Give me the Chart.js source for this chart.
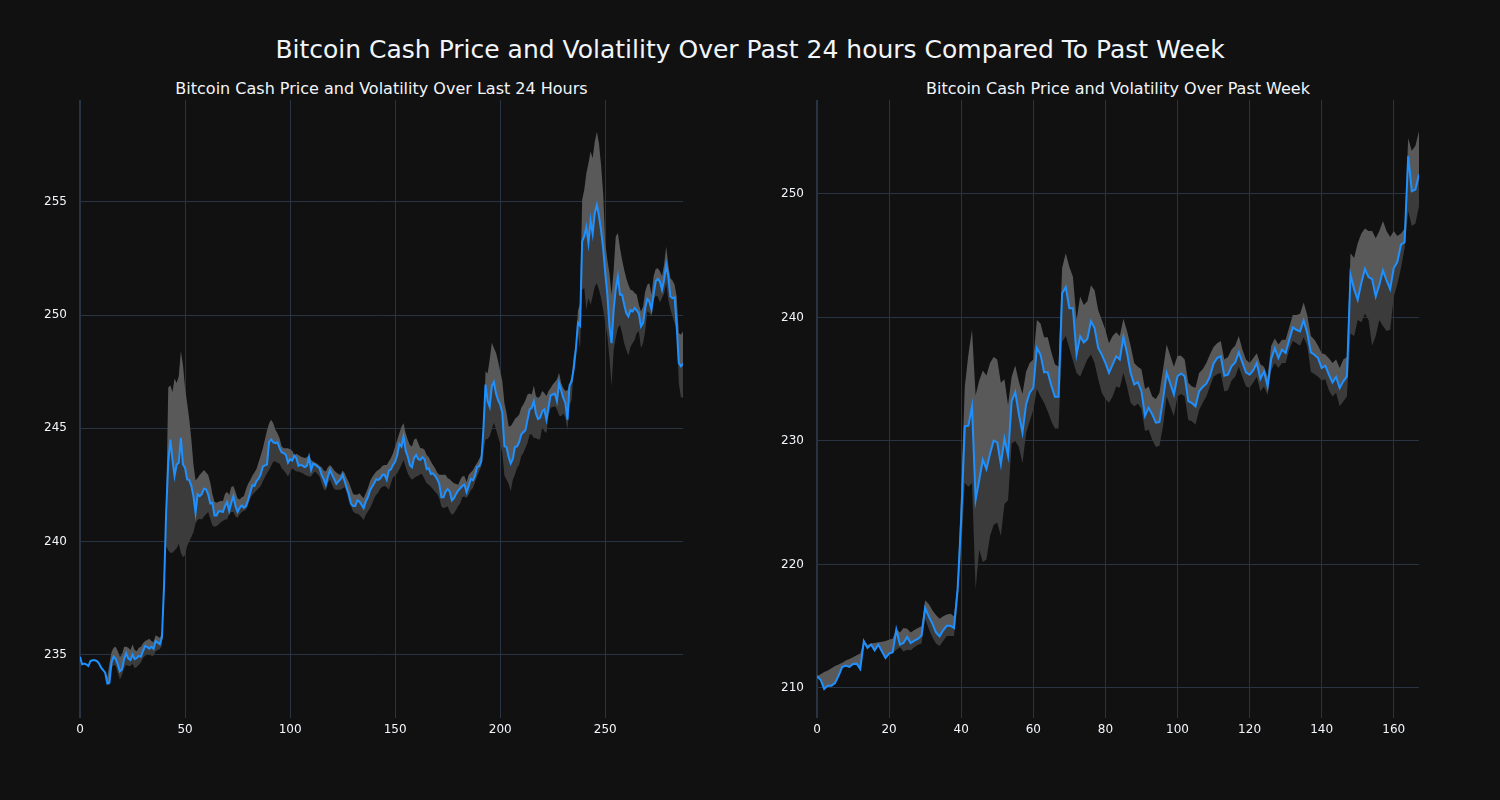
<!DOCTYPE html>
<html>
<head>
<meta charset="utf-8">
<script src="https://cdn.jsdelivr.net/npm/chart.js@4.4.0/dist/chart.umd.min.js"></script>
<style>
  body { margin: 0; background: #111111; width: 1500px; height: 800px; overflow: hidden; font-family: "DejaVu Sans", sans-serif; }
  #title { position: absolute; left: 0; top: 35px; width: 1500px; text-align: center; color: #f2f5fa; font-size: 25px; line-height: 30px; }
  .sub { position: absolute; top: 79px; color: #f2f5fa; font-size: 16px; line-height: 20px; text-align: center; }
  .wrap { position: absolute; top: 0; width: 750px; height: 800px; }
</style>
</head>
<body>
<div id="title">Bitcoin Cash Price and Volatility Over Past 24 hours Compared To Past Week</div>
<div class="sub" style="left:80px;width:603px">Bitcoin Cash Price and Volatility Over Last 24 Hours</div>
<div class="sub" style="left:817px;width:602px">Bitcoin Cash Price and Volatility Over Past Week</div>
<div class="wrap" style="left:0"><canvas id="dayChart" width="750" height="800"></canvas></div>
<div class="wrap" style="left:750px"><canvas id="weekChart" width="750" height="800"></canvas></div>
<script>
// Last 24 hours, one value per 5 minutes (index 0..287)
const dayPrice = [
  234.91, 234.57, 234.6, 234.57, 234.5, 234.72, 234.75, 234.75, 234.72, 234.62,
  234.43, 234.32, 234.2, 233.73, 233.76, 234.65, 234.91, 234.8, 234.57, 234.26,
  234.35, 234.8, 235.06, 234.82, 234.76, 235.0, 234.8, 234.85, 234.94, 234.91,
  235.16, 235.38, 235.34, 235.26, 235.35, 235.26, 235.6, 235.53, 235.46, 235.75,
  238.03, 241.27, 243.48, 244.5, 243.62, 242.89, 243.4, 243.48, 244.58, 243.4,
  243.26, 242.74, 242.71, 242.45, 242.0, 241.27, 242.08, 242.0, 242.1, 242.33,
  242.3, 242.08, 241.68, 241.71, 241.15, 241.15, 241.33, 241.33, 241.3, 241.56,
  241.74, 241.34, 241.71, 242.0, 241.56, 241.3, 241.49, 241.59, 241.49, 241.56,
  241.83, 242.15, 242.48, 242.45, 242.67, 242.77, 242.96, 243.3, 243.36, 243.4,
  244.4, 244.51, 244.37, 244.34, 244.38, 244.12, 243.93, 243.9, 243.82, 243.48,
  243.63, 243.57, 243.78, 243.68, 243.34, 243.38, 243.34, 243.28, 243.34, 243.72,
  243.16, 243.43, 243.38, 243.31, 243.23, 242.94, 242.75, 242.5, 242.87, 243.16,
  242.94, 242.75, 242.54, 242.65, 242.75, 242.94, 242.65, 242.35, 242.06, 241.66,
  241.57, 241.57, 241.81, 241.76, 241.62, 241.47, 241.76, 241.95, 242.25, 242.42,
  242.57, 242.75, 242.72, 242.79, 242.94, 242.94, 242.72, 243.13, 243.19, 243.38,
  243.53, 243.82, 244.31, 244.19, 244.63, 244.01, 243.75, 243.38, 243.28, 243.68,
  243.82, 243.63, 243.6, 243.72, 243.63, 243.19, 243.23, 242.98, 243.01, 242.9,
  242.75, 242.54, 241.95, 241.95, 242.2, 242.31, 242.2, 241.81, 241.91, 242.1,
  242.25, 242.35, 242.46, 242.51, 242.17, 242.46, 242.76, 242.7, 242.91, 243.29,
  243.32, 243.54, 244.94, 246.93, 246.19, 245.94, 246.86, 247.04, 246.53, 246.24,
  246.05, 245.68, 244.2, 244.17, 243.73, 243.44, 243.64, 244.17, 244.2, 244.38,
  244.72, 244.82, 244.91, 245.38, 245.83, 245.9, 246.19, 245.65, 245.41, 245.46,
  245.75, 245.83, 245.38, 245.94, 246.45, 246.49, 246.53, 246.19, 247.0, 246.68,
  246.34, 246.12, 245.38, 246.89, 247.08, 247.63, 248.48, 249.65, 249.53, 253.25,
  253.47, 253.88, 253.18, 254.18, 253.59, 254.5, 254.87, 254.38, 253.74, 252.96,
  251.85, 250.9, 249.5, 248.76, 250.24, 251.15, 251.71, 250.9, 250.9, 250.46,
  250.09, 249.94, 250.21, 250.16, 250.31, 250.21, 250.06, 249.5, 249.65, 250.31,
  250.71, 250.6, 250.24, 250.9, 251.49, 251.59, 251.49, 251.12, 251.56, 252.22,
  251.71, 250.82, 250.75, 250.78, 249.5, 247.88, 247.74, 247.85
];
const dayUpper = [
  234.95, 234.6, 234.63, 234.6, 234.55, 234.75, 234.78, 234.78, 234.75, 234.65,
  234.46, 234.35, 234.23, 234.0, 234.6, 235.1, 235.3, 235.35, 235.15, 234.9,
  235.0, 235.35, 235.35, 235.3, 235.2, 235.45, 235.2, 235.15, 235.3, 235.35,
  235.5, 235.6, 235.65, 235.7, 235.6, 235.55, 235.85, 235.8, 235.75, 235.95,
  238.3, 241.5, 246.8, 246.9, 246.6, 247.2, 247.0, 247.3, 248.4, 247.8,
  246.8, 246.1, 245.4, 244.5, 243.4, 242.7, 242.8, 242.95, 243.05, 243.15,
  243.05, 242.95, 242.6, 242.1, 241.75, 241.71, 241.75, 241.8, 241.78, 242.1,
  242.2, 242.05, 242.4, 242.45, 242.2, 241.9, 241.85, 241.95, 242.0, 242.3,
  242.55, 242.7, 242.9, 243.05, 243.2, 243.5, 243.8, 244.1, 244.5, 244.9,
  245.22, 245.37, 245.22, 244.93, 244.78, 244.56, 244.19, 244.12, 244.12, 244.12,
  244.07, 244.01, 243.82, 243.87, 243.82, 243.75, 243.72, 243.68, 243.72, 243.82,
  243.6, 243.53, 243.48, 243.43, 243.34, 243.28, 243.13, 243.09, 243.28, 243.38,
  243.28, 243.13, 243.04, 242.98, 242.94, 243.13, 243.01, 242.79, 242.6, 242.35,
  242.1, 242.06, 242.06, 242.13, 242.01, 241.91, 242.13, 242.35, 242.65, 242.84,
  242.97, 243.09, 243.16, 243.23, 243.34, 243.38, 243.38, 243.53, 243.68, 243.9,
  244.19, 244.49, 244.78, 245.07, 245.22, 244.78, 244.49, 244.26, 244.19, 244.49,
  244.56, 244.34, 244.12, 244.12, 244.04, 243.82, 243.72, 243.53, 243.38, 243.23,
  243.04, 242.94, 242.94, 242.94, 242.94, 242.79, 242.75, 242.65, 242.57, 242.54,
  242.5, 242.72, 242.88, 242.88, 242.61, 242.95, 243.05, 243.14, 243.32, 243.47,
  243.64, 243.83, 244.79, 247.52, 247.42, 248.04, 248.78, 248.55, 248.33, 247.96,
  247.52, 247.08, 246.12, 245.68, 245.09, 245.09, 245.24, 245.41, 245.5, 245.6,
  245.9, 246.05, 246.24, 246.49, 246.53, 246.49, 246.89, 246.42, 246.34, 246.42,
  246.64, 246.56, 246.42, 246.64, 246.78, 246.93, 247.04, 247.15, 247.45, 247.0,
  246.78, 246.64, 246.68, 246.93, 247.3, 248.19, 248.7, 250.2, 250.5, 255.09,
  255.53, 256.26, 256.71, 257.22, 256.93, 257.66, 258.1, 257.59, 256.63, 255.38,
  253.18, 252.44, 251.85, 250.9, 252.0, 253.47, 253.62, 252.96, 252.44, 252.0,
  251.63, 251.34, 251.12, 251.09, 250.97, 250.9, 250.46, 250.16, 250.38, 251.04,
  251.34, 251.41, 250.9, 251.71, 252.03, 252.07, 251.93, 251.71, 252.22, 253.03,
  252.22, 251.63, 251.53, 251.34, 250.82, 249.21, 249.13, 249.28
];
const dayLower = [
  234.88, 234.53, 234.56, 234.53, 234.45, 234.68, 234.72, 234.72, 234.69, 234.58,
  234.38, 234.27, 234.15, 233.68, 233.65, 234.4, 234.55, 234.5, 234.2, 233.9,
  234.1, 234.4, 234.55, 234.5, 234.5, 234.6, 234.4, 234.45, 234.55, 234.65,
  234.85, 234.95, 235.0, 235.0, 234.95, 234.95, 235.15, 235.2, 235.25, 235.4,
  237.5, 239.8, 239.6, 239.5, 239.5, 239.6, 239.7, 239.9, 239.5, 239.3,
  239.4, 239.8, 240.0, 240.2, 240.4, 240.8, 240.95, 241.0, 240.97, 241.1,
  241.2, 241.3, 241.0, 240.7, 240.65, 240.68, 240.75, 240.85, 240.9, 240.97,
  240.97, 241.2, 241.3, 241.3, 241.1, 241.05, 241.2, 241.3, 241.35, 241.4,
  241.6, 241.9, 242.05, 242.15, 242.25, 242.35, 242.45, 242.65, 242.84, 243.01,
  243.16, 243.34, 243.53, 243.53, 243.48, 243.43, 243.23, 243.13, 243.01, 242.87,
  243.04, 243.23, 243.16, 243.09, 243.09, 243.04, 243.01, 242.94, 242.9, 242.87,
  242.87, 243.01, 243.09, 242.98, 242.87, 242.57, 242.31, 242.25, 242.57, 242.72,
  242.5, 242.31, 242.28, 242.28, 242.28, 242.35, 242.39, 242.13, 241.76, 241.54,
  241.32, 241.25, 241.22, 241.17, 241.07, 240.95, 241.17, 241.32, 241.47, 241.66,
  241.91, 242.06, 242.16, 242.35, 242.42, 242.45, 242.39, 242.28, 242.57, 242.84,
  242.9, 243.01, 243.19, 243.38, 243.6, 243.28, 243.01, 242.84, 242.72, 242.79,
  242.87, 242.9, 242.98, 242.94, 242.75, 242.57, 242.5, 242.42, 242.31, 242.2,
  242.1, 241.91, 241.54, 241.47, 241.51, 241.54, 241.32, 241.17, 241.25, 241.39,
  241.57, 241.69, 241.96, 241.99, 241.92, 242.06, 242.26, 242.36, 242.61, 242.88,
  243.1, 243.32, 243.91, 244.5, 244.53, 244.65, 244.94, 245.24, 244.94, 244.62,
  244.32, 243.91, 242.91, 242.73, 242.55, 242.21, 242.73, 242.95, 243.24, 243.39,
  243.76, 243.91, 244.13, 244.35, 244.72, 244.72, 244.57, 244.57, 244.5, 244.53,
  245.06, 244.87, 244.79, 245.53, 245.9, 245.94, 245.97, 245.83, 245.56, 245.53,
  245.65, 245.46, 244.94, 245.97, 246.27, 247.6, 248.3, 249.2, 248.5, 251.12,
  251.19, 250.24, 250.75, 250.46, 250.82, 251.26, 251.41, 251.12, 250.75, 250.24,
  249.65, 249.06, 248.1, 246.85, 248.47, 248.99, 249.43, 249.57, 249.21, 248.76,
  248.47, 248.21, 248.59, 248.76, 248.91, 249.21, 249.28, 248.54, 248.76, 249.28,
  250.16, 250.09, 249.94, 250.68, 250.85, 250.82, 250.56, 250.75, 250.94, 251.41,
  250.68, 250.24, 249.94, 249.65, 249.35, 247.0, 246.38, 246.34
];
const dayXTicks = [0, 50, 100, 150, 200, 250];
const dayYTicks = [235, 240, 245, 250, 255];

// Past week, one value per hour (index 0..167)
const weekPrice = [
  210.94, 210.67, 209.92, 210.19, 210.19, 210.4, 211.0, 211.7, 211.81, 211.7,
  211.94, 211.97, 211.54, 213.78, 213.24, 213.51, 213.05, 213.51, 212.97, 212.43,
  212.78, 212.89, 214.72, 213.51, 213.64, 214.13, 213.64, 213.83, 213.97, 214.24,
  216.47, 215.8, 215.21, 214.5, 214.18, 214.67, 215.04, 215.04, 214.86, 217.96,
  223.62, 231.18, 231.23, 232.79, 225.24, 226.86, 228.48, 227.72, 228.96, 230.02,
  229.88, 228.12, 230.19, 228.79, 233.23, 233.95, 232.15, 230.67, 232.96, 233.9,
  234.3, 237.53, 236.99, 235.56, 235.56, 234.49, 233.58, 233.58, 241.96, 242.45,
  240.75, 240.75, 236.99, 238.47, 237.98, 238.25, 239.68, 239.14, 237.53, 236.99,
  236.32, 235.51, 236.18, 236.85, 236.59, 238.41, 237.12, 235.51, 234.57, 234.76,
  234.03, 232.02, 232.69, 232.15, 231.48, 231.53, 233.36, 235.51, 234.65, 233.76,
  235.24, 235.46, 235.24, 233.23, 233.07, 232.8, 234.02, 234.37, 234.64, 235.23,
  236.25, 236.71, 236.85, 235.28, 235.36, 236.04, 236.36, 237.17, 236.36, 235.55,
  235.36, 235.71, 236.31, 235.01, 235.63, 234.42, 236.63, 237.52, 236.71, 237.39,
  237.12, 238.19, 239.19, 239.0, 238.87, 239.76, 238.73, 237.17, 236.98, 236.71,
  235.9, 236.09, 235.36, 234.74, 235.18, 234.29, 234.82, 235.23, 243.45, 242.29,
  241.43, 242.78, 243.91, 243.26, 243.1, 241.7, 242.64, 243.8, 242.99, 242.29,
  243.99, 244.5, 245.89, 246.08, 253.05, 250.22, 250.35, 251.57
];
const weekUpper = [
  211.0, 211.12, 211.3, 211.42, 211.6, 211.78, 211.9, 212.05, 212.22, 212.35,
  212.48, 212.66, 212.8, 213.85, 213.5, 213.6, 213.65, 213.7, 213.75, 213.8,
  213.9, 214.0, 214.8, 214.5, 214.85, 214.8, 214.5, 214.7, 214.85, 215.0,
  217.1, 216.8, 216.3, 215.9, 215.6, 215.8, 215.95, 216.0, 215.8, 218.5,
  226.0, 234.4, 237.0, 239.0, 233.7, 234.9, 235.7, 235.3, 236.3, 236.8,
  236.6, 234.7, 235.0, 232.9, 235.2, 236.1, 234.8, 233.8, 235.6, 236.3,
  236.6, 239.8, 239.5, 238.4, 238.4, 237.2, 236.2, 236.0, 244.0, 245.2,
  244.1, 243.3, 239.8, 241.7, 241.0, 241.3, 242.6, 242.2, 240.6, 239.8,
  239.0, 237.9, 238.5, 238.8, 238.5, 239.9, 238.9, 237.7, 236.3, 236.0,
  235.8, 234.2, 234.4, 233.6, 233.4, 233.9, 235.8, 237.8, 236.9, 236.0,
  236.9, 236.9, 236.6, 234.7, 234.4, 234.3, 235.5, 235.8, 236.3, 237.0,
  237.6, 237.9, 238.1, 236.6, 236.8, 237.4, 237.7, 238.5, 237.4, 236.6,
  236.3, 236.7, 237.1, 236.2, 236.0, 235.2, 237.7, 238.3, 237.8, 238.2,
  238.2, 239.2, 240.2, 240.2, 240.3, 241.2, 240.2, 238.5, 238.2, 237.7,
  237.1, 237.0, 236.7, 236.3, 236.6, 235.9, 236.6, 236.8, 245.2, 244.8,
  246.0, 246.8, 247.2, 247.0, 247.0, 246.4, 247.0, 247.8, 247.0, 246.5,
  247.0, 246.6, 246.8, 247.2, 254.5, 253.5, 253.9, 255.1
];
const weekLower = [
  210.9, 210.62, 209.88, 210.15, 210.15, 210.36, 210.95, 211.65, 211.77, 211.65,
  211.9, 211.92, 211.5, 213.7, 213.2, 213.45, 213.0, 213.45, 212.9, 212.38,
  212.72, 212.83, 213.1, 213.3, 212.95, 213.1, 213.05, 213.3, 213.5, 213.6,
  215.6, 214.8, 214.1, 213.6, 213.4, 213.8, 214.2, 214.2, 214.2, 216.8,
  221.0, 226.6, 226.3, 226.6, 218.0, 221.2, 220.2, 220.4, 222.3, 223.2,
  223.4, 222.3, 224.9, 225.2, 229.8, 230.0, 229.5, 228.2, 230.6, 231.6,
  232.5, 234.2, 233.6, 233.1, 232.4, 231.6, 231.0, 231.0, 238.0, 238.5,
  237.5, 236.5, 235.5, 235.2, 235.9, 236.6, 237.0, 236.3, 235.0, 233.9,
  233.4, 233.1, 233.6, 234.4, 234.3, 235.5, 234.4, 233.1, 232.8, 233.0,
  232.6, 230.8, 230.9, 230.1, 229.5, 229.6, 231.2, 233.6, 232.8, 232.0,
  233.6, 233.8, 233.6, 231.7, 231.6, 231.3, 232.5, 233.1, 233.6, 234.4,
  235.2, 235.4, 235.5, 234.0, 234.1, 234.9, 235.2, 236.0, 235.2, 234.4,
  234.3, 234.7, 235.2, 234.0, 234.4, 233.7, 235.7, 236.3, 235.9, 236.3,
  236.3, 237.4, 238.1, 237.9, 237.7, 238.4, 237.7, 235.6, 235.4, 235.2,
  234.9, 235.0, 234.1, 233.6, 233.9, 232.8, 233.2, 233.6, 238.7, 238.5,
  239.8, 239.6, 240.3, 239.8, 237.7, 238.5, 239.8, 239.3, 238.9, 239.0,
  241.7, 242.7, 244.0, 245.6, 248.6, 247.4, 247.6, 249.0
];
const weekXTicks = [0, 20, 40, 60, 80, 100, 120, 140, 160];
const weekYTicks = [210, 220, 230, 240, 250];

const GRID = '#283442';
const TEXT = '#f2f5fa';
const LINE = '#1e90ff';
const BAND_HI = '#595959';  // between upper bound and price
const BAND_LO = '#3b3b3b';  // between price and lower bound

function toPoints(values) {
  return values.map((v, i) => ({ x: i, y: v }));
}

/**
 * One price panel: upper bound, price line, lower bound.
 * The chart area is pinned with fixed axis sizes so both panels line up like the original.
 */
function drawPanel(canvasId, price, upper, lower, xTicks, yTicks, xMax, yMin, yMax, axisWidth, padRight) {
  const tickFont = { family: 'DejaVu Sans', size: 12 };
  return new Chart(document.getElementById(canvasId), {
    type: 'line',
    data: {
      datasets: [
        { data: toPoints(upper), borderWidth: 0, pointRadius: 0, fill: false },
        { data: toPoints(price), borderColor: LINE, borderWidth: 2, pointRadius: 0,
          fill: '-1', backgroundColor: BAND_HI },
        { data: toPoints(lower), borderWidth: 0, pointRadius: 0,
          fill: '-1', backgroundColor: BAND_LO },
      ]
    },
    options: {
      responsive: false,
      devicePixelRatio: 1,
      animation: false,
      layout: { padding: { top: 100, right: padRight, bottom: 0, left: 0 } },
      plugins: { legend: { display: false }, tooltip: { enabled: false } },
      scales: {
        x: {
          type: 'linear', min: 0, max: xMax,
          afterBuildTicks: (s) => { s.ticks = xTicks.map(v => ({ value: v })); },
          afterFit: (s) => { s.height = 82; },
          ticks: { color: TEXT, font: tickFont, padding: 5, maxRotation: 0 },
          grid: { color: GRID, lineWidth: (ctx) => (ctx.tick && ctx.tick.value === 0 ? 2 : 1), drawTicks: false },
          border: { display: false }
        },
        y: {
          type: 'linear', min: yMin, max: yMax,
          afterBuildTicks: (s) => { s.ticks = yTicks.map(v => ({ value: v })); },
          afterFit: (s) => { s.width = axisWidth; },
          ticks: { color: TEXT, font: tickFont, padding: 13 },
          grid: { color: GRID, drawTicks: false },
          border: { display: false }
        }
      }
    }
  });
}

drawPanel('dayChart', dayPrice, dayUpper, dayLower, dayXTicks, dayYTicks, 287, 232.2, 259.5, 80, 67);
drawPanel('weekChart', weekPrice, weekUpper, weekLower, weekXTicks, weekYTicks, 167, 207.57, 257.6, 67, 81);
</script>
</body>
</html>
